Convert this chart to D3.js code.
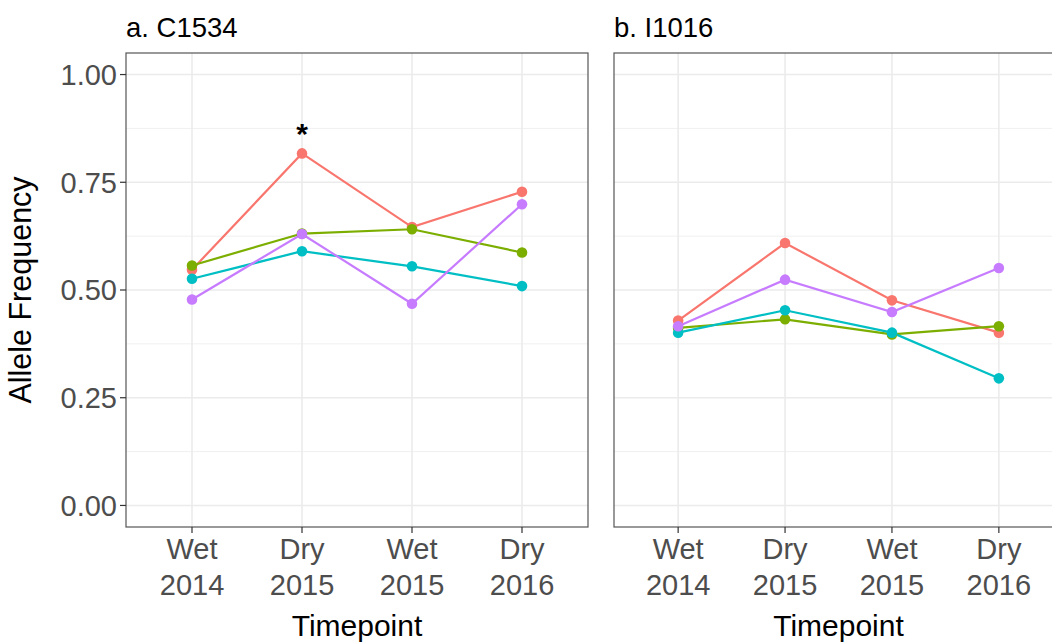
<!DOCTYPE html>
<html>
<head>
<meta charset="utf-8">
<script src="https://cdn.jsdelivr.net/npm/d3@7"></script>
<style>
  html, body { margin: 0; padding: 0; background: #fff; }
  svg { display: block; font-family: "Liberation Sans", Arial, Helvetica, sans-serif; }
</style>
</head>
<body>
<svg id="chart" width="1052" height="644"></svg>
<script>
// Sampling timepoints (two-line tick labels)
const timepoints = ["Wet 2014", "Dry 2015", "Wet 2015", "Dry 2016"];
const yTicks = [0, 0.25, 0.5, 0.75, 1];
const yMinor = [0.125, 0.375, 0.625, 0.875];

// Four groups, coloured with the default hue palette
const groupColors = ["#F8766D", "#7CAE00", "#00BFC4", "#C77CFF"];

// a. C1534 allele frequencies per group
const c1534Group1 = [0.547, 0.817, 0.646, 0.728];
const c1534Group2 = [0.557, 0.631, 0.641, 0.587];
const c1534Group3 = [0.526, 0.590, 0.555, 0.509];
const c1534Group4 = [0.478, 0.630, 0.468, 0.699];

// b. I1016 allele frequencies per group
const i1016Group1 = [0.429, 0.609, 0.476, 0.401];
const i1016Group2 = [0.412, 0.432, 0.397, 0.416];
const i1016Group3 = [0.401, 0.453, 0.401, 0.295];
const i1016Group4 = [0.416, 0.524, 0.449, 0.551];

// Significance marker
const markerLabel = "*";
const markerTime = "Dry 2015";
const markerValue = 0.882;

const panels = [
  { title: "a. C1534", left: 126, right: 588,
    series: [c1534Group1, c1534Group2, c1534Group3, c1534Group4], marker: true },
  { title: "b. I1016", left: 614, right: 1063,
    series: [i1016Group1, i1016Group2, i1016Group3, i1016Group4], marker: false }
];

const plotTop = 53, plotBottom = 527;
const svg = d3.select("#chart");

const y = d3.scaleLinear().domain([-0.05, 1.05]).range([plotBottom, plotTop]);

panels.forEach((p, pi) => {
  const x = d3.scalePoint().domain(timepoints).range([p.left, p.right]).padding(0.6);
  const g = svg.append("g");

  // background
  g.append("rect").attr("x", p.left).attr("y", plotTop)
    .attr("width", p.right - p.left).attr("height", plotBottom - plotTop).attr("fill", "#fff");

  // minor grid
  g.selectAll(".minor").data(yMinor).join("line")
    .attr("x1", p.left).attr("x2", p.right)
    .attr("y1", d => y(d)).attr("y2", d => y(d))
    .attr("stroke", "#F0F0F0").attr("stroke-width", 1);

  // major grid
  g.selectAll(".majorY").data(yTicks).join("line")
    .attr("x1", p.left).attr("x2", p.right)
    .attr("y1", d => y(d)).attr("y2", d => y(d))
    .attr("stroke", "#EBEBEB").attr("stroke-width", 1.6);
  g.selectAll(".majorX").data(timepoints).join("line")
    .attr("x1", d => x(d)).attr("x2", d => x(d))
    .attr("y1", plotTop).attr("y2", plotBottom)
    .attr("stroke", "#EBEBEB").attr("stroke-width", 1.6);

  // lines and points
  const line = d3.line().x((d, i) => x(timepoints[i])).y(d => y(d));
  p.series.forEach((vals, si) => {
    g.append("path").datum(vals).attr("d", line)
      .attr("fill", "none").attr("stroke", groupColors[si]).attr("stroke-width", 2.2);
  });
  p.series.forEach((vals, si) => {
    g.selectAll(null).data(vals).join("circle")
      .attr("cx", (d, i) => x(timepoints[i])).attr("cy", d => y(d))
      .attr("r", 5.3).attr("fill", groupColors[si]);
  });

  if (p.marker) {
    g.append("text").attr("x", x(markerTime)).attr("y", y(markerValue))
      .attr("dy", "0.62em").attr("text-anchor", "middle")
      .attr("font-size", 30).attr("font-weight", "bold").attr("fill", "#000")
      .text(markerLabel);
  }

  // panel border
  g.append("rect").attr("x", p.left).attr("y", plotTop)
    .attr("width", p.right - p.left).attr("height", plotBottom - plotTop)
    .attr("fill", "none").attr("stroke", "#555").attr("stroke-width", 1.2);

  // x axis ticks and two-line labels
  const xt = g.selectAll(".xt").data(timepoints).join("g")
    .attr("transform", d => `translate(${x(d)},${plotBottom})`);
  xt.append("line").attr("y1", 0).attr("y2", 6).attr("stroke", "#333").attr("stroke-width", 1.2);
  xt.append("text").attr("y", 32).attr("text-anchor", "middle")
    .attr("font-size", 29).attr("fill", "#4D4D4D").text(d => d.split(" ")[0]);
  xt.append("text").attr("y", 68).attr("text-anchor", "middle")
    .attr("font-size", 29).attr("fill", "#4D4D4D").text(d => d.split(" ")[1]);

  // x axis title
  g.append("text").attr("x", (p.left + p.right) / 2).attr("y", 636)
    .attr("text-anchor", "middle").attr("font-size", 30).attr("fill", "#000")
    .text("Timepoint");

  // panel title
  g.append("text").attr("x", p.left).attr("y", 37)
    .attr("font-size", 27.5).attr("fill", "#000").text(p.title);

  // y axis only on the first panel
  if (pi === 0) {
    const yt = g.selectAll(".yt").data(yTicks).join("g")
      .attr("transform", d => `translate(${p.left},${y(d)})`);
    yt.append("line").attr("x1", -6).attr("x2", 0).attr("stroke", "#333").attr("stroke-width", 1.2);
    yt.append("text").attr("x", -9).attr("dy", "0.36em").attr("text-anchor", "end")
      .attr("font-size", 29).attr("fill", "#4D4D4D").text(d => d.toFixed(2));

    g.append("text")
      .attr("transform", `translate(31,${(plotTop + plotBottom) / 2}) rotate(-90)`)
      .attr("text-anchor", "middle").attr("font-size", 30.5).attr("fill", "#000")
      .text("Allele Frequency");
  }
});
</script>
</body>
</html>
